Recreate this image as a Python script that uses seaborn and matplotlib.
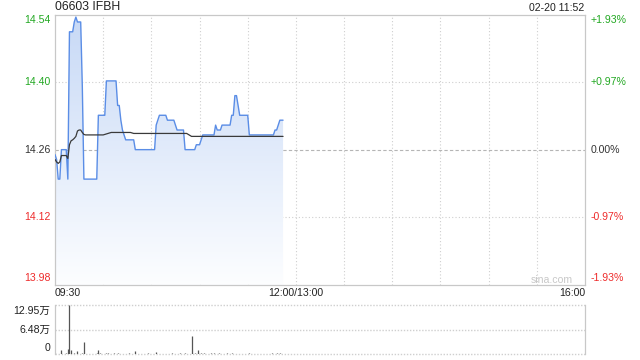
import numpy as np
import pandas as pd
import matplotlib
matplotlib.use("Agg")
import matplotlib.pyplot as plt
import seaborn as sns
from matplotlib.colors import LinearSegmentedColormap

# ---------------- data ----------------
title = "06603 IFBH"
stamp = "02-20 11:52"
prev_close = 14.26
pct_range = 1.93
session_minutes = 330

price = [
    14.25, 14.24, 14.20, 14.20, 14.26, 14.26, 14.26, 14.26, 14.20, 14.50,
    14.50, 14.50, 14.52, 14.53, 14.52, 14.52, 14.52, 14.39, 14.20, 14.20,
    14.20, 14.20, 14.20, 14.20, 14.20, 14.20, 14.20, 14.33, 14.33, 14.33,
    14.33, 14.33, 14.40, 14.40, 14.40, 14.40, 14.40, 14.40, 14.40, 14.35,
    14.35, 14.32, 14.30, 14.29, 14.28, 14.28, 14.28, 14.28, 14.28, 14.28,
    14.26, 14.26, 14.26, 14.26, 14.26, 14.26, 14.26, 14.26, 14.26, 14.26,
    14.26, 14.26, 14.26, 14.31, 14.32, 14.33, 14.33, 14.33, 14.33, 14.33,
    14.32, 14.32, 14.32, 14.32, 14.32, 14.31, 14.30, 14.30, 14.30, 14.30,
    14.30, 14.26, 14.26, 14.26, 14.26, 14.26, 14.26, 14.26, 14.27, 14.27,
    14.27, 14.28, 14.29, 14.29, 14.29, 14.29, 14.29, 14.29, 14.29, 14.29,
    14.31, 14.30, 14.30, 14.30, 14.31, 14.31, 14.31, 14.31, 14.31, 14.31,
    14.33, 14.33, 14.37, 14.37, 14.35, 14.33, 14.33, 14.33, 14.33, 14.33,
    14.33, 14.29, 14.29, 14.29, 14.29, 14.29, 14.29, 14.29, 14.29, 14.29,
    14.29, 14.29, 14.29, 14.29, 14.29, 14.29, 14.29, 14.30, 14.30, 14.31,
    14.32, 14.32, 14.32,
]

avg_price = [
    14.240, 14.235, 14.232, 14.235, 14.248, 14.248, 14.248, 14.248, 14.242, 14.270,
    14.278, 14.280, 14.283, 14.287, 14.298, 14.300, 14.300, 14.295, 14.291, 14.290,
    14.290, 14.290, 14.290, 14.290, 14.290, 14.290, 14.290, 14.290, 14.290, 14.290,
    14.290, 14.291, 14.292, 14.293, 14.294, 14.295, 14.295, 14.295, 14.295, 14.295,
    14.295, 14.295, 14.295, 14.295, 14.295, 14.295, 14.295, 14.295, 14.294, 14.293,
    14.293, 14.293, 14.293, 14.293, 14.293, 14.293, 14.293, 14.293, 14.293, 14.293,
    14.293, 14.293, 14.293, 14.293, 14.293, 14.293, 14.293, 14.293, 14.293, 14.293,
    14.293, 14.293, 14.293, 14.293, 14.293, 14.293, 14.293, 14.293, 14.293, 14.293,
    14.293, 14.293, 14.293, 14.291, 14.289, 14.287, 14.287, 14.287, 14.287, 14.287,
    14.287, 14.287, 14.287, 14.287, 14.287, 14.287, 14.287, 14.287, 14.287, 14.287,
    14.287, 14.287, 14.287, 14.287, 14.287, 14.287, 14.287, 14.287, 14.287, 14.287,
    14.287, 14.287, 14.287, 14.287, 14.287, 14.287, 14.287, 14.287, 14.287, 14.287,
    14.287, 14.287, 14.287, 14.287, 14.287, 14.287, 14.287, 14.287, 14.287, 14.287,
    14.287, 14.287, 14.287, 14.287, 14.287, 14.287, 14.287, 14.287, 14.287, 14.287,
    14.287, 14.287, 14.287,
]

volume_wan = [
    0.3, 0.1, 0.2, 0.1, 1.0, 0.2, 0.1, 0.3, 1.4, 12.95,
    1.0, 0.2, 0.3, 0.2, 0.9, 0.2, 0.1, 0.3, 3.2, 0.2,
    0.1, 0.2, 0.2, 0.1, 0.2, 0.2, 0.3, 1.1, 0.3, 0.2,
    0.1, 0.2, 0.3, 0.4, 0.2, 0.1, 0.2, 0.3, 0.2, 0.4,
    0.2, 0.1, 0.2, 0.2, 0.1, 0.2, 0.3, 0.2, 0.1, 0.2,
    0.9, 0.2, 0.1, 0.2, 0.2, 0.1, 0.2, 0.2, 0.3, 0.1,
    0.2, 0.2, 0.1, 0.6, 0.2, 0.1, 0.2, 0.2, 0.1, 0.2,
    0.2, 0.1, 0.2, 0.3, 0.2, 0.2, 0.1, 0.2, 0.3, 0.2,
    0.2, 0.3, 0.2, 0.1, 0.2, 4.8, 0.2, 0.3, 0.2, 1.1,
    0.2, 0.4, 0.2, 0.3, 0.2, 0.2, 0.1, 0.3, 0.2, 0.3,
    0.2, 0.2, 0.3, 0.2, 0.1, 0.2, 0.2, 0.3, 0.2, 0.2,
    0.3, 0.2, 0.2, 0.1, 0.2, 0.2, 0.2, 0.1, 0.2, 0.2,
    0.2, 0.3, 0.2, 0.2, 0.1, 0.2, 0.2, 0.2, 0.1, 0.2,
    0.2, 0.2, 0.1, 0.2, 0.2, 0.3, 0.2, 0.2, 0.4, 0.2,
    0.3, 0.2, 0.1,
]

pct_ticks = [1.93, 0.965, 0.0, -0.965, -1.93]
left_labels = ["14.54", "14.40", "14.26", "14.12", "13.98"]
right_labels = ["+1.93%", "+0.97%", "0.00%", "-0.97%", "-1.93%"]
x_label_minutes = [0, 150, 330]
x_labels = ["09:30", "12:00/13:00", "16:00"]
grid_minutes = [30, 60, 90, 120, 150, 180, 210, 240, 270, 300]
vol_ticks = [12.95, 6.48, 0]
vol_labels = ["12.95万", "6.48万", "0"]

# ---------------- style ----------------
sns.set_theme(style="white")
plt.rcParams["font.family"] = ["Liberation Sans", "Noto Sans CJK SC", "DejaVu Sans"]

GREEN = "#22a822"
RED = "#ee2b2b"
DARK = "#333333"
GRID = "#cfcfcf"
LINE = "#5a8de6"

df = pd.DataFrame({"minute": np.arange(len(price)), "price": price, "avg": avg_price,
                   "vol": volume_wan})

fig = plt.figure(figsize=(6.4, 3.6), dpi=100)
ax = fig.add_axes([55 / 640, 1 - 284.8 / 360, 530 / 640, 270.3 / 360])
axv = fig.add_axes([55 / 640, 1 - 354.3 / 360, 530 / 640, 49.3 / 360])

ylo = prev_close * (1 - pct_range / 100)
yhi = prev_close * (1 + pct_range / 100)

# gradient fill under price
cmap = LinearSegmentedColormap.from_list("g", [(0.99, 0.994, 1.0), (0.78, 0.85, 0.965)])
grad = np.linspace(1, 0, 256).reshape(-1, 1)
im = ax.imshow(grad, extent=[0, df["minute"].max(), ylo, yhi], aspect="auto",
               cmap=cmap, origin="upper", zorder=1, interpolation="bilinear")
poly = ax.fill_between(df["minute"], df["price"], ylo, color="none", lw=0)
im.set_clip_path(poly.get_paths()[0], transform=ax.transData)

# grid
for m in grid_minutes:
    ax.axvline(m, color=GRID, lw=0.8, ls=(0, (1, 2)), zorder=0.5)
for t in [pct_ticks[1], pct_ticks[3]]:
    ax.axhline(prev_close * (1 + t / 100), color=GRID, lw=0.8, ls=(0, (1, 2)), zorder=0.5)
ax.axhline(prev_close, color="#b5b5b5", lw=0.8, ls=(0, (3, 2)), zorder=0.6)

sns.lineplot(data=df, x="minute", y="price", ax=ax, color=LINE, lw=1.0, zorder=3)
sns.lineplot(data=df, x="minute", y="avg", ax=ax, color="#3a3a3a", lw=0.9, zorder=4)

ax.set_xlim(0, session_minutes)
ax.set_ylim(ylo, yhi)
ax.set_xticks([])
ax.set_yticks([])
ax.set_xlabel("")
ax.set_ylabel("")
for s in ax.spines.values():
    s.set_color("#c8c8c8")
    s.set_linewidth(0.9)

# y labels
ytr = ax.get_yaxis_transform()
offs = [-5.8, 0, 0, 0, 6.8]
for t, ll, rl, off in zip(pct_ticks, left_labels, right_labels, offs):
    yv = prev_close * (1 + t / 100)
    col = GREEN if t > 0 else (RED if t < 0 else DARK)
    ax.annotate(ll, xy=(0, yv), xycoords=ytr, xytext=(-3, off * 0.72), textcoords="offset points",
                ha="right", va="center", fontsize=7.6, color=col)
    ax.annotate(rl, xy=(1, yv), xycoords=ytr, xytext=(4.2, off * 0.72), textcoords="offset points",
                ha="left", va="center", fontsize=7.6, color=col)

# x labels
xtr = ax.get_xaxis_transform()
has = ["left", "center", "right"]
for m, lab, ha in zip(x_label_minutes, x_labels, has):
    ax.annotate(lab, xy=(m, 0), xycoords=xtr, xytext=(0, -5.8), textcoords="offset points",
                ha=ha, va="center", fontsize=7.6, color="#222222")

# title / stamp / watermark
ax.annotate(title, xy=(0, 1), xycoords="axes fraction", xytext=(0, 5.2), textcoords="offset points",
            ha="left", va="center", fontsize=8.8, color="#222222")
ax.annotate(stamp, xy=(1, 1), xycoords="axes fraction", xytext=(-0.5, 5.0), textcoords="offset points",
            ha="right", va="center", fontsize=7.6, color="#222222")
ax.annotate("sina.com", xy=(1, 0), xycoords="axes fraction", xytext=(-8.5, 3.8), textcoords="offset points",
            ha="right", va="center", fontsize=7.6, color="#c8c8c8")

# volume panel
axv.vlines(df["minute"], 0, df["vol"], color="#555555", lw=0.9)
axv.set_xlim(0, session_minutes)
axv.set_ylim(0, vol_ticks[0])
axv.set_xticks([])
axv.set_yticks([])
for t in vol_ticks:
    axv.axhline(t, color=GRID, lw=1.0, ls=(0, (1, 1.2)), zorder=0.5, clip_on=False)
axv.spines["top"].set_visible(False)
axv.spines["bottom"].set_visible(False)
for side in ["left", "right"]:
    axv.spines[side].set_color("#c8c8c8")
    axv.spines[side].set_linewidth(0.9)
vtr = axv.get_yaxis_transform()
voffs = [-6, 0, 6.3]
for t, lab, off in zip(vol_ticks, vol_labels, voffs):
    axv.annotate(lab, xy=(0, t), xycoords=vtr, xytext=(-3.6, off * 0.72), textcoords="offset points",
                 ha="right", va="center", fontsize=7.6, color="#222222")

fig.savefig("out.png", dpi=100)
